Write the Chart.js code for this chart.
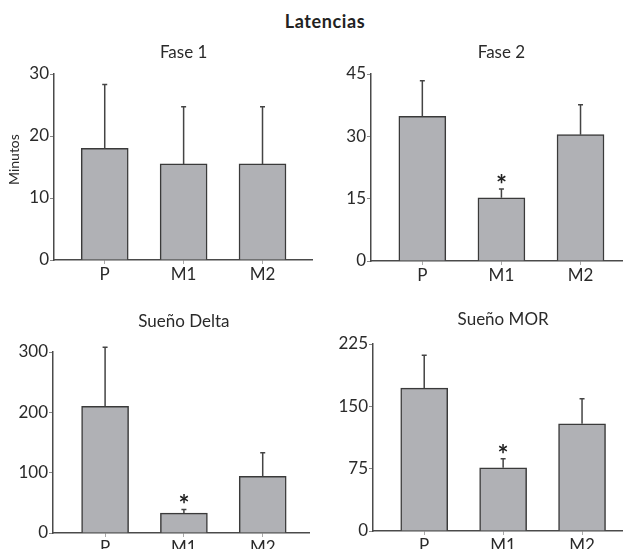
<!DOCTYPE html>
<html>
<head>
<meta charset="utf-8">
<script src="https://cdn.jsdelivr.net/npm/chart.js@4.4.0/dist/chart.umd.min.js"></script>
<style>
  body { margin: 0; background: #fff; width: 623px; height: 549px; position: relative; overflow: hidden; }
  #titulo { position: absolute; left: 225px; width: 200px; top: 10px; text-align: center;
            font: bold 18px Lato, sans-serif; letter-spacing: 0.6px; color: #222; }
  canvas { position: absolute; }
</style>
</head>
<body>
<div id="titulo">Latencias</div>
<canvas id="fase1" width="313" height="270" style="left:0;top:30px"></canvas>
<canvas id="fase2" width="308" height="270" style="left:315px;top:30px"></canvas>
<canvas id="delta" width="310" height="249" style="left:0;top:300px"></canvas>
<canvas id="mor" width="308" height="249" style="left:315px;top:300px"></canvas>
<script>
// grupos
const categories = ['P', 'M1', 'M2'];

// medias y desviaciones (minutos)
const fase1Means = [18, 15.5, 15.5];
const fase1Sd = [10.3, 9.2, 9.2];
const fase1Stars = [false, false, false];

const fase2Means = [34.8, 15.2, 30.4];
const fase2Sd = [8.6, 2.1, 7.2];
const fase2Stars = [false, true, false];

const deltaMeans = [210, 33, 94];
const deltaSd = [98, 6, 39];
const deltaStars = [false, true, false];

const morMeans = [172, 76, 129];
const morSd = [39.5, 11, 30];
const morStars = [false, true, false];

// ticks del eje y
const fase1Ticks = [0, 10, 20, 30];
const fase2Ticks = [0, 15, 30, 45];
const deltaTicks = [0, 100, 200, 300];
const morTicks = [0, 75, 150, 225];

const FONT = 'Lato, sans-serif';
const TEXT = '#2a2a2a';

// barras de error, asteriscos, subtitulo y titulo del eje
const errorBarPlugin = {
    id: 'errorBars',
    afterDatasetsDraw(chart, args, opts) {
        const ctx = chart.ctx;
        const yScale = chart.scales.y;
        const xScale = chart.scales.x;
        const ds = chart.data.datasets[0];
        const meta = chart.getDatasetMeta(0);
        ctx.save();
        ctx.strokeStyle = '#444';
        ctx.lineWidth = 1.5;
        meta.data.forEach((bar, i) => {
            const top = yScale.getPixelForValue(ds.data[i].y + ds.sd[i]);
            ctx.beginPath();
            ctx.moveTo(bar.x, bar.y);
            ctx.lineTo(bar.x, top);
            ctx.moveTo(bar.x - 2.5, top);
            ctx.lineTo(bar.x + 2.5, top);
            ctx.stroke();
            if (ds.stars[i]) {
                ctx.fillStyle = '#222';
                ctx.font = 'bold 26px ' + FONT;
                ctx.textAlign = 'center';
                ctx.textBaseline = 'alphabetic';
                ctx.fillText('*', bar.x, top + 5);
            }
        });
        ctx.fillStyle = TEXT;
        ctx.font = '17px ' + FONT;
        ctx.textAlign = 'center';
        ctx.textBaseline = 'middle';
        ctx.fillText(opts.text, xScale.getPixelForValue(1), opts.y);
        if (opts.yTitle) {
            ctx.translate(opts.yTitleX, yScale.top + (yScale.bottom - yScale.top) * 0.46);
            ctx.rotate(-Math.PI / 2);
            ctx.font = '14px ' + FONT;
            ctx.fillText(opts.yTitle, 0, 0);
        }
        ctx.restore();
    }
};

function makePanel(id, title, means, sd, stars, ticks, geo) {
    const ctx = document.getElementById(id).getContext('2d');
    return new Chart(ctx, {
        type: 'bar',
        data: {
            datasets: [{
                data: categories.map((c, i) => ({ x: i, y: means[i] })),
                sd: sd,
                stars: stars,
                backgroundColor: '#b0b1b5',
                borderColor: '#3a3a3a',
                borderWidth: 1.5,
                barThickness: 47
            }]
        },
        options: {
            responsive: false,
            animation: false,
            layout: { padding: { top: geo.top, left: 0, right: 0, bottom: 0 } },
            plugins: {
                legend: { display: false },
                tooltip: { enabled: false },
                errorBars: { text: title, y: geo.titleY, yTitle: geo.yTitle, yTitleX: 14 }
            },
            scales: {
                x: {
                    type: 'linear',
                    offset: false,
                    min: geo.xMin,
                    max: geo.xMax,
                    afterBuildTicks: s => { s.ticks = categories.map((c, i) => ({ value: i })); },
                    afterFit: s => { s.height = geo.xHeight; },
                    ticks: {
                        callback: v => categories[v],
                        font: { family: FONT, size: 17 },
                        color: TEXT,
                        padding: 0
                    },
                    grid: { offset: false, drawOnChartArea: false, drawTicks: true, tickLength: 4, color: '#aaa' },
                    border: { color: '#4a4a4a', width: 1.5 }
                },
                y: {
                    min: ticks[0],
                    max: ticks[ticks.length - 1],
                    afterBuildTicks: s => { s.ticks = ticks.map(v => ({ value: v })); },
                    afterFit: s => { s.width = geo.yWidth; },
                    ticks: {
                        font: { family: FONT, size: 17 },
                        color: TEXT,
                        padding: 1
                    },
                    grid: { drawOnChartArea: false, drawTicks: true, tickLength: 4, color: '#888' },
                    border: { color: '#4a4a4a', width: 1.5 }
                }
            }
        },
        plugins: [errorBarPlugin]
    });
}

makePanel('fase1', 'Fase 1', fase1Means, fase1Sd, fase1Stars, fase1Ticks,
    { top: 44, xHeight: 40, yWidth: 54, xMin: -0.643, xMax: 2.64, titleY: 23, yTitle: 'Minutos' });
makePanel('fase2', 'Fase 2', fase2Means, fase2Sd, fase2Stars, fase2Ticks,
    { top: 44, xHeight: 39, yWidth: 56, xMin: -0.649, xMax: 2.537, titleY: 23 });
makePanel('delta', 'Sueño Delta', deltaMeans, deltaSd, deltaStars, deltaTicks,
    { top: 52, xHeight: 16, yWidth: 53, xMin: -0.661, xMax: 2.60, titleY: 22 });
makePanel('mor', 'Sueño MOR', morMeans, morSd, morStars, morTicks,
    { top: 44, xHeight: 18, yWidth: 58, xMin: -0.649, xMax: 2.519, titleY: 20 });
</script>
</body>
</html>
